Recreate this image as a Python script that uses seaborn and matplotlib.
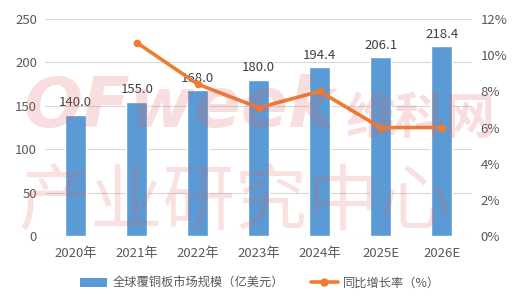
import numpy as np
import pandas as pd
import matplotlib
matplotlib.use("Agg")
import matplotlib.pyplot as plt
import seaborn as sns
from matplotlib.patches import Patch
from matplotlib.lines import Line2D

years = ["2020年", "2021年", "2022年", "2023年", "2024年", "2025E", "2026E"]
market = [140.0, 155.0, 168.0, 180.0, 194.4, 206.1, 218.4]
growth = [np.nan, 10.7, 8.4, 7.1, 8.0, 6.0, 6.0]
bar_label = "全球覆铜板市场规模（亿美元）"
line_label = "同比增长率（%）"
left_ticks = [0, 50, 100, 150, 200, 250]
right_ticks = [0, 2, 4, 6, 8, 10, 12]

sns.set_theme(style="white")
plt.rcParams['font.family'] = ['Noto Sans CJK SC', 'DejaVu Sans']

BLUE = "#5B9BD5"
ORANGE = "#ED7D31"
TXT = "#595959"

df = pd.DataFrame({"year": years, "market": market, "growth": growth,
                   "pos": np.arange(len(years))})

fig = plt.figure(figsize=(5.2, 2.98), dpi=100)
ax = fig.add_axes([0.087, 0.208, 0.821, 0.728])

sns.barplot(data=df, x="year", y="market", color=BLUE, width=0.34,
            saturation=1, ax=ax, zorder=2)
ax.set_ylim(0, 250)
ax.set_yticks(left_ticks)
ax.yaxis.grid(True, color="#D9D9D9", linewidth=0.8, zorder=0)
ax.set_axisbelow(True)
for s in ax.spines.values():
    s.set_visible(False)
ax.set_xlabel("")
ax.set_ylabel("")
ax.tick_params(axis="both", length=0, labelsize=9.5, colors=TXT, pad=6)
ax.tick_params(axis="x", pad=8)
ax.set_xlim(-0.5, len(years) - 0.5)
for c in ax.containers:
    ax.bar_label(c, fmt="%.1f", padding=4, fontsize=9.5, color="#404040")

ax2 = ax.twinx()
sub = df.dropna()
sns.lineplot(data=sub, x="pos", y="growth", color=ORANGE, linewidth=2.6,
             marker="o", markersize=5.5, markeredgewidth=0, ax=ax2, zorder=3)
ax2.set_ylim(0, 12)
ax2.set_yticks(right_ticks)
ax2.set_yticklabels([f"{t}%" for t in right_ticks])
ax2.set_xlim(-0.5, len(years) - 0.5)
ax2.set_ylabel("")
ax2.set_xlabel("")
for s in ax2.spines.values():
    s.set_visible(False)
ax2.tick_params(axis="y", length=0, labelsize=9.5, colors=TXT, pad=6)
ax2.grid(False)

# watermark
fig.text(0.045, 0.64, "OFweek", fontsize=50, fontweight="bold", color="#E05A5A",
         alpha=0.2, family=['DejaVu Sans'], style="italic", va="center", ha="left")
fig.text(0.665, 0.60, "维科网", fontsize=36, fontweight="bold", color="#E05A5A",
         alpha=0.2, va="center", ha="left")
fig.text(0.035, 0.32, "产业研究中心", fontsize=52, color="#E05A5A",
         alpha=0.18, va="center", ha="left")

handles = [Patch(facecolor=BLUE, edgecolor="none"),
           Line2D([0], [0], color=ORANGE, linewidth=2.6, marker="o", markersize=5)]
fig.legend(handles, [bar_label, line_label], loc="center", bbox_to_anchor=(0.5, 0.05),
           ncol=2, frameon=False, fontsize=8.8, labelcolor=TXT, handlelength=2.2,
           handleheight=0.7, columnspacing=2.2, handletextpad=0.4)

fig.savefig("out.png", dpi=100)
